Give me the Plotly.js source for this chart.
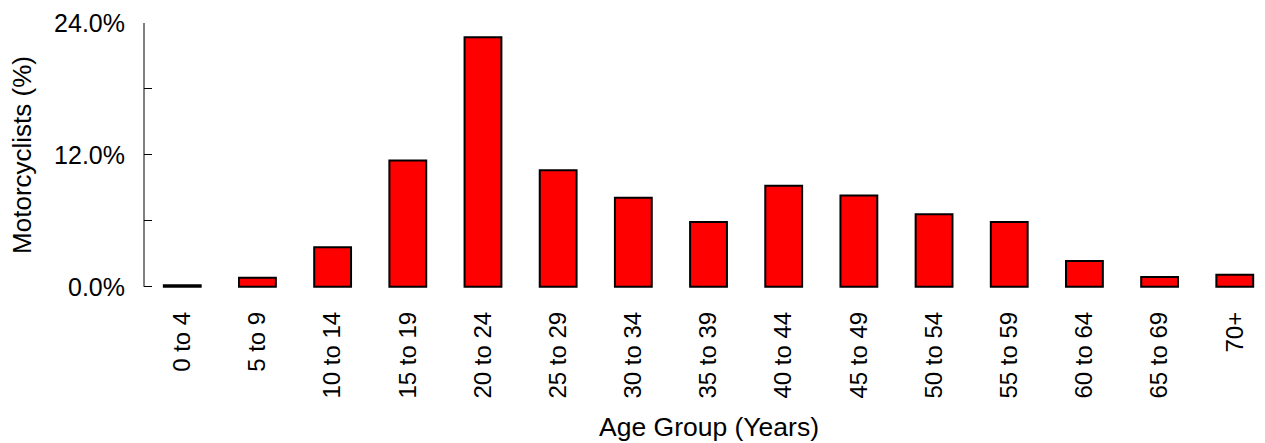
<!DOCTYPE html>
<html>
<head>
<meta charset="utf-8">
<script src="https://cdn.plot.ly/plotly-3.0.1.min.js"></script>
<style>
  html, body { margin: 0; padding: 0; background: #fff; }
  #chart { width: 1265px; height: 443px; }
</style>
</head>
<body>
<div id="chart"></div>
<script>
const categories = ["0 to 4", "5 to 9", "10 to 14", "15 to 19", "20 to 24", "25 to 29", "30 to 34",
  "35 to 39", "40 to 44", "45 to 49", "50 to 54", "55 to 59", "60 to 64", "65 to 69", "70+"];
const values = [0.15, 0.82, 3.6, 11.5, 22.7, 10.6, 8.1, 5.9, 9.2, 8.3, 6.6, 5.9, 2.35, 0.9, 1.1];
const yTickVals = [0, 6, 12, 18, 24];
const yTickText = ["0.0%", "", "12.0%", "", "24.0%"];
const xTitle = "Age Group (Years)";
const yTitle = "Motorcyclists (%)";

const FONT = "Liberation Sans, Arial, sans-serif";
const W = 1265, H = 443;
const mL = 144, mR = 0, mT = 23.3, mB = 153.5;
const plotH = H - mT - mB;

const trace = {
  type: "bar",
  x: categories,
  y: values,
  width: 0.49,
  marker: { color: "#FF0000", line: { color: "#000000", width: 2 } },
  hoverinfo: "skip"
};

const layout = {
  width: W, height: H,
  margin: { l: mL, r: mR, t: mT, b: mB, pad: 0, autoexpand: false },
  paper_bgcolor: "#ffffff",
  plot_bgcolor: "#ffffff",
  showlegend: false,
  font: { family: FONT, color: "#000000" },
  xaxis: {
    type: "category",
    range: [-0.509, 14.402],
    showline: false, showgrid: false, zeroline: false,
    ticks: "",
    tickangle: -90,
    tickfont: { family: FONT, size: 24, color: "#000" },
    ticklabelstandoff: 17,
    automargin: false,
    fixedrange: true
  },
  yaxis: {
    range: [-0.2, 24],
    showline: false, showgrid: false, zeroline: false,
    tickmode: "array",
    tickvals: yTickVals,
    ticktext: yTickText,
    ticks: "inside", ticklen: 8, tickwidth: 1, tickcolor: "#000",
    tickfont: { family: FONT, size: 25, color: "#000" },
    ticklabelstandoff: 18,
    automargin: false,
    fixedrange: true
  },
  shapes: [{
    type: "line", xref: "paper", yref: "y",
    x0: 0, x1: 0, y0: yTickVals[0], y1: yTickVals[yTickVals.length - 1],
    line: { color: "#000", width: 1 }
  }],
  annotations: [
    {
      text: yTitle, textangle: -90, showarrow: false,
      xref: "paper", yref: "y",
      x: (22 - mL) / (W - mL - mR), y: 12,
      xanchor: "center", yanchor: "middle",
      font: { family: FONT, size: 26, color: "#000" }
    },
    {
      text: xTitle, showarrow: false,
      xref: "x", yref: "paper",
      x: 7, y: -(428 - (H - mB)) / plotH,
      xanchor: "center", yanchor: "middle",
      font: { family: FONT, size: 26.5, color: "#000" }
    }
  ]
};

Plotly.newPlot("chart", [trace], layout, { displayModeBar: false, staticPlot: true });
</script>
</body>
</html>
